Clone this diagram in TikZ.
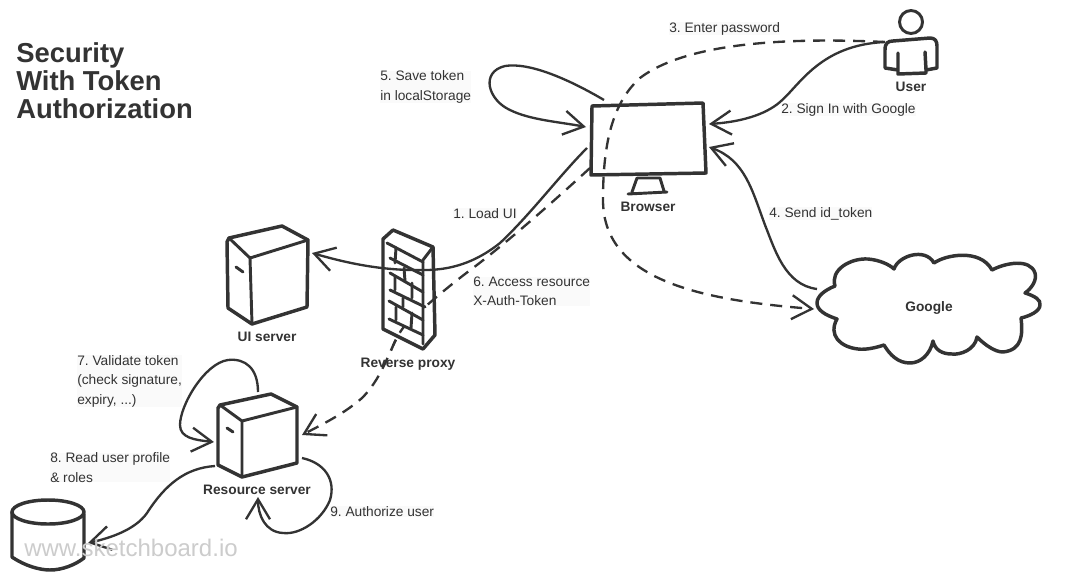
\documentclass[tikz,border=0pt]{standalone}
\usepackage{fontspec}
\setmainfont{Liberation Sans}
\usetikzlibrary{arrows.meta}
\definecolor{ink}{HTML}{333333}
\definecolor{lbl}{HTML}{FAFAFA}
\tikzset{
  x=0.75pt,y=-0.75pt,
  shape line/.style={draw=ink,line width=2.6pt,line join=round,line cap=round,fill=white},
  detail/.style={draw=ink,line width=2.2pt,line join=round,line cap=round},
  conn line/.style={draw=ink,line width=1.75pt,line cap=butt},
  conn/.style={conn line,-{Straight Barb[length=15pt,width=18pt,line width=1.75pt]}},
  dashes/.style={dash pattern=on 9pt off 6pt},
  stepnote/.style={anchor=west,align=left,text=ink,inner sep=0pt,fill=lbl,font=\fontsize{10.3pt}{14.6pt}\selectfont},
  iconlabel/.style={anchor=center,text=ink,inner sep=0pt,font=\fontsize{10.3pt}{12pt}\selectfont\bfseries},
}
\frenchspacing
\newcommand{\sixpath}{(browserL3) .. controls (555,200) and (510,240) .. (473,268) .. controls (450,285) and (420,310) .. (403,328) .. controls (390,345) and (385,375) .. (362,398) .. controls (345,413) and (325,423) .. (resE)}
\begin{document}
\begin{tikzpicture}
\useasboundingbox (0,0) rectangle (1070,582);
\fill[white] (0,0) rectangle (1070,582);
% anchors
\coordinate (userC) at (885,42);
\coordinate (browserA) at (709,124);
\coordinate (browserB) at (709,147);
\coordinate (browserL1) at (586,127);
\coordinate (browserT) at (604,100);
\coordinate (browserL2) at (587,148);
\coordinate (browserL3) at (590,168);
\coordinate (googleA) at (814,309);
\coordinate (googleB) at (817,289);
\coordinate (uiE) at (312,253);
\coordinate (resE) at (302,435);
\coordinate (resT) at (258,392);
\coordinate (resW) at (214,442);
\coordinate (resSW) at (215,466);
\coordinate (resSE) at (302,458);
\coordinate (resS) at (258,497);
\coordinate (dbE) at (88,543);

% title and labels
\node[anchor=north west,align=left,text=ink,inner sep=0pt,font=\fontsize{20.55pt}{21pt}\selectfont\bfseries] (title) at (16,42) {Security\\With Token\\Authorization};
\node[stepnote] (s1) at (453,213.5) {1. Load UI};
\node[stepnote] (s2) at (781,109.5) {2. Sign In with Google};
\node[stepnote] (s3) at (669,28.5) {3. Enter password};
\node[stepnote] (s4) at (769,213.5) {4. Send id\_token};
\node[stepnote] (s5) at (380,87) {5. Save token\\in localStorage};
\node[stepnote] (s6) at (473,291.5) {6. Access resource\\X-Auth-Token};
\node[stepnote] (s7) at (77,381) {7. Validate token\\(check signature,\\expiry, ...)};
\node[stepnote] (s8) at (50,467.5) {8. Read user profile\\\& roles};
\node[stepnote] (s9) at (330,511.5) {9. Authorize user};
\node[iconlabel] (luser) at (911,87) {User};
\node[iconlabel] (lbrowser) at (648,207) {Browser};
\node[iconlabel] (lui) at (267,337) {UI server};
\node[iconlabel] (lproxy) at (408,364) {Reverse proxy};
\node[iconlabel] (lres) at (257,490) {Resource server};

% connector 6 runs behind the firewall
\draw[conn,dashes] \sixpath;

% browser
\draw[shape line] (592,106) -- (703,103) -- (706,173) -- (591,175) -- cycle;
\draw[detail] (637,178) -- (660,178) -- (664,191) (637,178) -- (632,192) (628,194) -- (667,192);
% user
\draw[detail,fill=white] (911,22) circle (11.5);
\draw[shape line] (885,68) -- (885,50) .. controls (885,43) and (888,41) .. (893,41) -- (930,38) .. controls (935,38) and (937,41) .. (937,46) -- (937,68) -- (926,70) -- (925,52) (926,70) -- (926,73) -- (898,74) -- (898,53) (898,70) -- (885,68);
% UI server
\draw[shape line] (227,242) -- (228,308) -- (252,324) -- (307,307) -- (308,240) -- (282,226) -- (229,238) -- cycle;
\draw[detail] (229,238) -- (250,258) -- (252,324) (250,258) -- (308,240);
\draw[detail] (236,267) -- (243,272);
% firewall
\draw[shape line] (383,239) -- (393,230) -- (433,247) -- (435,335) -- (423,349) -- (383,329) -- cycle;
\draw[detail] (433,247) -- (423,260) -- (423,344);
\draw[detail] (387,243) -- (423,262) (390,258) -- (423,275) (390,273) -- (423,292) (390,290) -- (425,307) (389,301) -- (423,320) (389,319) -- (423,335);
\draw[detail] (396,248) -- (395,263) (404,268) -- (405,281) (412,283) -- (412,298) (395,277) -- (395,290) (403,298) -- (403,307) (396,307) -- (396,320) (412,313) -- (411,328);
% parts of connector 6 that show over the firewall
\begin{scope}
\clip (392,326) rectangle (412,352) (424,296) rectangle (434,312);
\draw[conn line,dashes] \sixpath;
\end{scope}
% resource server
\draw[shape line] (218,408) -- (218,465) -- (242,477) -- (297,463) -- (297,407) -- (271,394) -- (220,405) -- cycle;
\draw[detail] (220,405) -- (242,421) -- (242,477) (242,421) -- (297,407);
\draw[detail] (227,428) -- (233,432);
% database
\draw[shape line] (12,512) -- (12,557) .. controls (25,566) and (40,570) .. (50,570) .. controls (62,570) and (75,565) .. (84,558) -- (84,514);
\draw[shape line] (48,512) ellipse (36 and 12);
% cloud
\draw[shape line] (817,303) .. controls (817,296) and (825,290) .. (835,286) .. controls (830,270) and (850,258) .. (868,259) .. controls (880,260) and (890,265) .. (894,269) .. controls (898,256) and (925,247) .. (934,263) .. controls (945,255) and (980,248) .. (992,270) .. controls (1005,263) and (1030,258) .. (1035,273) .. controls (1037,280) and (1032,288) .. (1025,293) .. controls (1035,296) and (1041,300) .. (1040,305) .. controls (1040,311) and (1030,316) .. (1021,318) .. controls (1023,335) and (1022,350) .. (1003,352) .. controls (995,352) and (985,345) .. (977,337) .. controls (975,350) and (960,355) .. (952,354) .. controls (942,354) and (935,350) .. (933,341) .. controls (930,355) and (920,363) .. (910,363) .. controls (898,363) and (890,355) .. (884,345) .. controls (875,348) and (865,350) .. (858,349) .. controls (840,347) and (828,335) .. (837,319) .. controls (825,315) and (817,310) .. (817,303) -- cycle;
\node[iconlabel] (lgoogle) at (929,308) {Google};

% connectors
\draw[conn] (userC) .. controls (820,45) and (800,85) .. (780,102) .. controls (765,115) and (740,122) .. (browserA);
\draw[conn,dashes] (userC) .. controls (800,38) and (690,40) .. (640,78) .. controls (610,105) and (603,150) .. (603,200) .. controls (603,280) and (700,300) .. (googleA);
\draw[conn] (googleB) .. controls (785,285) and (775,250) .. (765,225) .. controls (752,190) and (745,160) .. (browserB);
\draw[conn] (browserT) .. controls (570,80) and (530,62) .. (505,66) .. controls (480,72) and (488,100) .. (510,110) .. controls (530,120) and (560,122) .. (browserL1);
\draw[conn] (browserL2) .. controls (560,175) and (530,215) .. (500,243) .. controls (475,263) and (450,270) .. (425,270) .. controls (385,271) and (350,264) .. (uiE);
\draw[conn] (resT) .. controls (258,368) and (245,358) .. (228,360) .. controls (205,363) and (180,405) .. (180,425) .. controls (180,438) and (195,440) .. (resW);
\draw[conn] (resSW) .. controls (185,468) and (165,485) .. (147,513) .. controls (135,530) and (110,538) .. (dbE);
\draw[conn] (resSE) .. controls (325,463) and (336,480) .. (330,500) .. controls (322,520) and (300,535) .. (283,533) .. controls (265,532) and (258,515) .. (resS);

% watermark
\node[anchor=west,inner sep=0pt,text=black!20,font=\fontsize{18pt}{20pt}\selectfont] (wm) at (24,548) {www.sketchboard.io};
\end{tikzpicture}
\end{document}
